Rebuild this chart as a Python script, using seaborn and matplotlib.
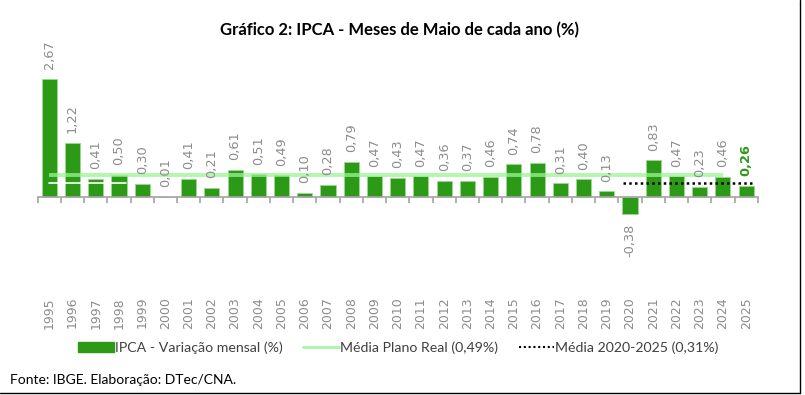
import numpy as np
import matplotlib
matplotlib.use("Agg")
import matplotlib.pyplot as plt
import seaborn as sns
from matplotlib.patches import Patch
from matplotlib.lines import Line2D
from matplotlib.transforms import blended_transform_factory

# dados
anos = [str(a) for a in range(1995, 2026)]
ipca = [2.67, 1.22, 0.41, 0.50, 0.30, 0.01, 0.41, 0.21, 0.61, 0.51, 0.49,
        0.10, 0.28, 0.79, 0.47, 0.43, 0.47, 0.36, 0.37, 0.46, 0.74, 0.78,
        0.31, 0.40, 0.13, -0.38, 0.83, 0.47, 0.23, 0.46, 0.26]
media_real = 0.49
media_real_anos = ("1995", "2024")
media_recente = 0.31
media_recente_anos = ("2020", "2025")

VERDE = "#2c9a16"
CINZA = "#8c8c8c"
FONTE = ["Lato", "DejaVu Sans"]

sns.set_theme(style="white")
plt.rcParams["font.family"] = ["DejaVu Sans"]

fig = plt.figure(figsize=(8.05, 3.95), dpi=100)
ax = fig.add_axes([0.0468, 0.2663, 0.8945, 0.5818])

sns.barplot(x=anos, y=ipca, color=VERDE, saturation=1, width=0.65,
            edgecolor="#9bd88f", linewidth=0.6, ax=ax, zorder=2)

ax.set_xlim(-0.5, len(anos) - 0.5)
ax.set_ylim(-2.1, 3.1)

# linhas de média
i0, i1 = anos.index(media_real_anos[0]), anos.index(media_real_anos[1])
ax.plot([i0, i1], [media_real, media_real], color="#9af595", lw=2.8,
        alpha=0.75, zorder=3, solid_capstyle="butt")
ax.plot([0, 3.3], [media_recente, media_recente], color="white", lw=1.2, zorder=3)
j0, j1 = anos.index(media_recente_anos[0]), anos.index(media_recente_anos[1])
ax.plot([j0 - 0.3, j1 + 0.3], [media_recente, media_recente], color="black",
        lw=1.8, linestyle=(0, (1, 1.3)), zorder=4)

# rótulos de dados
for i, v in enumerate(ipca):
    txt = f"{v:.2f}".replace(".", ",")
    ultimo = i == len(ipca) - 1
    ax.annotate(txt, (i, v), xytext=(0, 7 if v >= 0 else -7),
                textcoords="offset points", rotation=90, ha="center",
                va="bottom" if v >= 0 else "top", fontsize=9.3,
                color=VERDE if ultimo else CINZA,
                fontweight="bold" if ultimo else "normal")

# eixo x
for s in ["left", "right", "top"]:
    ax.spines[s].set_visible(False)
ax.spines["bottom"].set_position(("data", 0))
ax.spines["bottom"].set_color("#a6a6a6")
ax.set_yticks([])
ax.set_xticks(np.arange(-0.5, len(anos)))
ax.set_xticklabels([])
ax.tick_params(axis="x", length=4, color="#a6a6a6", direction="out", bottom=True)
ax.set_xlabel("")

trans = blended_transform_factory(ax.transData, ax.transAxes)
for i, a in enumerate(anos):
    ax.text(i, -0.031, a, transform=trans, rotation=90, ha="center", va="top",
            fontsize=9, color=CINZA)

fig.text(0.496, 0.924, "Gráfico 2: IPCA - Meses de Maio de cada ano (%)",
         ha="center", va="center", fontsize=12, fontweight="bold",
         family=FONTE, color="black")

handles = [
    Patch(facecolor=VERDE, edgecolor=VERDE),
    Line2D([], [], color="#a8f5a0", lw=2),
    Line2D([], [], color="black", lw=1.5, linestyle=(0, (1, 1.3))),
]
labels = ["IPCA - Variação mensal (%)", "Média Plano Real (0,49%)",
          "Média 2020-2025 (0,31%)"]
fig.legend(handles, labels, loc="center", bbox_to_anchor=(0.495, 0.119),
           ncol=3, frameon=False, handlelength=2.5, handletextpad=0.1,
           columnspacing=1.45, prop={"family": FONTE, "size": 10.2},
           labelcolor="#404040")

fig.text(0.012, 0.038, "Fonte: IBGE. Elaboração: DTec/CNA.", ha="left",
         va="center", fontsize=10, family=FONTE, color="black")

# moldura
fig.add_artist(Line2D([0.9938, 0.9938], [0.005, 1], color="black", lw=1))
fig.add_artist(Line2D([0, 0.9938], [0.005, 0.005], color="black", lw=1))

fig.savefig("out.png", dpi=100)
